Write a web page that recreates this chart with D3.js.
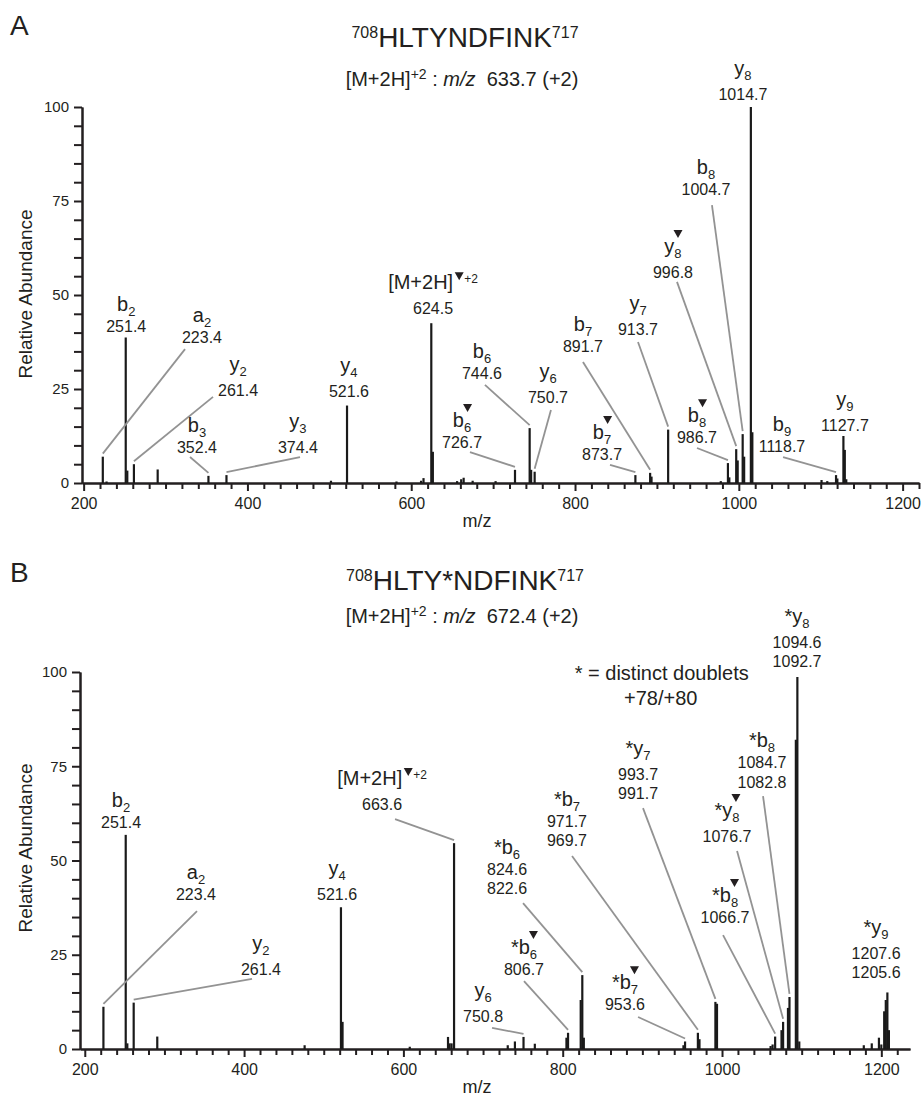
<!DOCTYPE html>
<html>
<head>
<meta charset="utf-8">
<script src="https://cdn.jsdelivr.net/npm/d3@7"></script>
<style>
body { margin: 0; background: #fff; }
svg text { font-family: "Liberation Sans", Arial, sans-serif; fill: #231f20; }
.axis path, .axis line { stroke: #231f20; stroke-width: 2; }
.axis text { font-family: "Liberation Sans", Arial, sans-serif; fill: #231f20; }
</style>
</head>
<body>
<svg id="chart" width="921" height="1098"></svg>
<script>
// ---- DATA -----------------------
var mzMajor = [200, 400, 600, 800, 1000, 1200];
var mzMinor = d3.range(220, 1221, 20).filter(v => v % 200 != 0);
var abundMajor = [0, 25, 50, 75, 100];
var abundMinor = [5, 10, 15, 20, 30, 35, 40, 45, 55, 60, 65, 70, 80, 85, 90, 95];

// spectrum A, [m/z, relative abundance]
var peaksA = [
    [223.4, 7.0], [228, 0.4], [251.4, 38.7], [253.3, 3.3], [261.4, 5.0], [290.4, 3.6],
    [352.4, 1.9], [374.4, 2.1], [502, 0.6], [521.6, 20.6], [582, 0.4], [612, 0.6],
    [615, 1.3], [624.5, 42.5], [626.4, 8.3], [656, 0.5], [661, 1.0], [664, 1.4],
    [675, 0.6], [703, 0.5], [726.7, 3.5], [744.6, 14.6], [746.4, 3.5], [750.7, 3.0],
    [873.7, 2.1], [891.7, 2.7], [893.4, 1.7], [913.7, 14.2], [978, 0.5], [986.7, 5.3],
    [988.4, 1.5], [996.8, 9.0], [998.6, 6.0], [1004.7, 13.0], [1006.5, 7.0],
    [1014.7, 100], [1016.5, 13.5], [1101, 0.8], [1108, 0.5], [1118.7, 2.1],
    [1120.3, 1.2], [1127.7, 12.5], [1129.4, 8.8], [1131.2, 1.0]
];

// spectrum B (phospho), [m/z, relative abundance]
var peaksB = [
    [223.4, 11.2], [251.4, 56.8], [253.4, 1.5], [261.4, 12.3], [291, 3.3], [476, 1.0],
    [521.6, 37.6], [523.6, 7.2], [608, 0.6], [656, 3.2], [658, 1.5], [660.5, 1.5],
    [663.6, 54.6], [731, 1.0], [740, 2.0], [750.8, 3.2], [765, 1.4], [804.7, 3.0],
    [806.7, 4.3], [822.6, 13.0], [824.6, 19.6], [826.5, 3.0], [951.6, 1.0], [953.6, 2.0],
    [969.7, 4.3], [971.7, 2.6], [991.7, 12.5], [993.7, 12.0], [1061, 0.8], [1063.5, 1.2],
    [1066.7, 3.3], [1074.7, 5.0], [1076.7, 7.2], [1082.8, 10.9], [1084.7, 13.8],
    [1092.7, 82], [1094.6, 98.7], [1097, 2.0], [1178, 1.0], [1188, 1.5], [1197, 3.0],
    [1200, 1.2], [1203.6, 10], [1205.6, 13], [1207.6, 15], [1209.5, 5]
];

// ion annotations: text + where the label sits (in m/z, abundance units)
var labelsA = [
    {ion: "b", sub: "2", mz: ["251.4"], at: [252, 40.2]},
    {ion: "a", sub: "2", mz: ["223.4"], at: [344.5, 37.2], from: [323.8, 35.6]},
    {ion: "y", sub: "2", mz: ["261.4"], at: [388.5, 23.1], from: [358, 22.9]},
    {ion: "b", sub: "3", mz: ["352.4"], at: [338.4, 8.0], from: [329.9, 6.9]},
    {ion: "y", sub: "3", mz: ["374.4"], at: [461.7, 8.0], from: [464.2, 6.9]},
    {ion: "y", sub: "4", mz: ["521.6"], at: [524, 22.9]},
    {ion: "[M+2H]", tri: true, sup: "+2", mz: ["624.5"], at: [626.6, 44.9]},
    {ion: "b", sub: "6", tri: true, mz: ["726.7"], at: [662, 9.3], from: [671.7, 8.2]},
    {ion: "b", sub: "6", mz: ["744.6"], at: [686.4, 27.7], from: [690, 26.1]},
    {ion: "y", sub: "6", mz: ["750.7"], at: [767, 21.3], from: [770.6, 19.4]},
    {ion: "b", sub: "7", tri: true, mz: ["873.7"], at: [833, 6.1], from: [842.7, 4.8]},
    {ion: "b", sub: "7", mz: ["891.7"], at: [809.7, 34.8], from: [809.7, 32.2]},
    {ion: "y", sub: "7", mz: ["913.7"], at: [876.9, 39.4], from: [876.9, 37.5]},
    {ion: "y", sub: "8", tri: true, mz: ["996.8"], at: [919.6, 54.5], from: [924.5, 53.5]},
    {ion: "b", sub: "8", mz: ["1004.7"], at: [959.9, 76.6], from: [967.2, 73.9]},
    {ion: "y", sub: "8", mz: ["1014.7"], at: [1005, 101.9]},
    {ion: "b", sub: "8", tri: true, mz: ["986.7"], at: [948.9, 10.6], from: [948.9, 9.3]},
    {ion: "b", sub: "9", mz: ["1118.7"], at: [1052.7, 8.2], from: [1054, 6.9]},
    {ion: "y", sub: "9", mz: ["1127.7"], at: [1129.6, 13.8]}
];

var labelsB = [
    {ion: "b", sub: "2", mz: ["251.4"], at: [245.5, 58.6]},
    {ion: "a", sub: "2", mz: ["223.4"], at: [339.6, 39.5], from: [340.9, 36.6]},
    {ion: "y", sub: "2", mz: ["261.4"], at: [421.2, 19.6], from: [410, 18.6]},
    {ion: "y", sub: "4", mz: ["521.6"], at: [516.7, 39.5]},
    {ion: "[M+2H]", tri: true, sup: "+2", mz: ["663.6"], at: [573.2, 63.4], from: [589.5, 61]},
    {ion: "y", sub: "6", mz: ["750.8"], at: [700, 7.2], from: [711.3, 5.6]},
    {star: true, ion: "b", sub: "6", tri: true, mz: ["806.7"], at: [751.4, 19.6], from: [751.4, 18.0]},
    {star: true, ion: "b", sub: "6", mz: ["824.6", "822.6"], at: [730.1, 46.2], from: [750.2, 38.7]},
    {star: true, ion: "b", sub: "7", tri: true, mz: ["953.6"], at: [878.2, 10.3], from: [894.6, 8.5]},
    {star: true, ion: "b", sub: "7", mz: ["971.7", "969.7"], at: [805.4, 58.9], from: [811.7, 51.2]},
    {star: true, ion: "y", sub: "7", mz: ["993.7", "991.7"], at: [894.6, 71.4], from: [900.8, 63.9]},
    {star: true, ion: "y", sub: "8", tri: true, mz: ["1076.7"], at: [1006.3, 54.9], from: [1018.9, 52.5]},
    {star: true, ion: "b", sub: "8", tri: true, mz: ["1066.7"], at: [1003.8, 33.4], from: [1001.3, 30.2]},
    {star: true, ion: "b", sub: "8", mz: ["1084.7", "1082.8"], at: [1050.2, 74.5], from: [1051.5, 67.1]},
    {star: true, ion: "y", sub: "8", mz: ["1094.6", "1092.7"], at: [1094.2, 106.4]},
    {star: true, ion: "y", sub: "9", mz: ["1207.6", "1205.6"], at: [1193.4, 23.9]}
];

var notesB = [
    {text: "* = distinct doublets", at: [924.3, 97.9]},
    {text: "+78/+80", at: [923, 91.2]}
];

// ---- PANELS -----------------------
var panels = [
    {letter: "A", letterY: 35, title: ["708", "HLTYNDFINK", "717"], titleY: 47,
     precursor: "633.7", subY: 86, relY: 294,
     peaks: peaksA, labels: labelsA, notes: [],
     x: d3.scaleLinear().domain([198, 1220]).range([82, 919]),
     y: d3.scaleLinear().domain([0, 100]).range([483, 107])},
    {letter: "B", letterY: 582, title: ["708", "HLTY*NDFINK", "717"], titleY: 590,
     precursor: "672.4", subY: 623, relY: 848,
     peaks: peaksB, labels: labelsB, notes: notesB,
     x: d3.scaleLinear().domain([194, 1236]).range([80, 910]),
     y: d3.scaleLinear().domain([0, 100]).range([1049, 672])}
];

var svg = d3.select("#chart");

function triangle(g, cx, top) {
    g.append("path")
        .attr("d", "M-4.5,0L4.5,0L0,8Z")
        .attr("transform", "translate(" + cx + "," + top + ")")
        .style("fill", "#231f20");
}

function ionLabel(g, d, cx, base) {
    var lab = g.append("g");
    var t = lab.append("text").attr("x", 0).attr("y", base).style("font-size", "20px");
    if (d.star) t.append("tspan").text("*");
    t.append("tspan").text(d.ion);
    var sub = null;
    if (d.sub) sub = t.append("tspan").attr("dy", 5).style("font-size", "13px").text(d.sub);
    var w = t.node().getComputedTextLength();
    if (d.tri && sub) {
        var sw = sub.node().getComputedTextLength();
        triangle(lab, w - sw / 2, base - 23);
    }
    if (d.sup) {
        triangle(lab, w + 6, base - 17);
        var s = lab.append("text").attr("x", w + 11).attr("y", base - 6)
            .style("font-size", "12px").text(d.sup);
        w = w + 11 + s.node().getComputedTextLength();
    }
    lab.attr("transform", "translate(" + (cx - w / 2) + ",0)");
}

panels.forEach(p => {
    var g = svg.append("g");
    var x = p.x, y = p.y;
    var y0 = y(0);

    // panel letter + titles
    g.append("text").attr("x", 10).attr("y", p.letterY)
        .style("font-size", "28px").text(p.letter);

    var tt = g.append("text").attr("x", 465).attr("y", p.titleY)
        .attr("text-anchor", "middle").style("font-size", "28px");
    tt.append("tspan").attr("dy", -9).style("font-size", "16px").text(p.title[0]);
    tt.append("tspan").attr("dy", 9).text(p.title[1]);
    tt.append("tspan").attr("dy", -9).style("font-size", "16px").text(p.title[2]);

    var st = g.append("text").attr("x", 462).attr("y", p.subY)
        .attr("text-anchor", "middle").style("font-size", "20px");
    st.append("tspan").text("[M+2H]");
    st.append("tspan").attr("dy", -7).style("font-size", "14px").text("+2");
    st.append("tspan").attr("dy", 7).text(" : ");
    st.append("tspan").style("font-style", "italic").text("m/z");
    st.append("tspan").text("\u00a0 " + p.precursor + " (+2)");

    // axes
    g.append("g").attr("class", "axis").attr("transform", "translate(0," + y0 + ")")
        .call(d3.axisBottom(x).tickValues(mzMinor).tickSize(6).tickSizeOuter(0).tickFormat(""));
    g.append("g").attr("class", "axis").attr("transform", "translate(0," + y0 + ")")
        .call(d3.axisBottom(x).tickValues(mzMajor).tickSize(8).tickSizeOuter(0)
            .tickPadding(7).tickFormat(d3.format("d")))
        .selectAll("text").style("font-size", "16px");

    var xl = x.range()[0];
    g.append("g").attr("class", "axis").attr("transform", "translate(" + xl + ",0)")
        .call(d3.axisLeft(y).tickValues(abundMinor).tickSize(8).tickSizeOuter(0).tickFormat(""));
    g.append("g").attr("class", "axis").attr("transform", "translate(" + xl + ",0)")
        .call(d3.axisLeft(y).tickValues(abundMajor).tickSize(8).tickSizeOuter(0).tickPadding(5))
        .selectAll("text").style("font-size", "15px");

    g.append("text").attr("x", 477).attr("y", y0 + 44)
        .attr("text-anchor", "middle").style("font-size", "18px").text("m/z");
    g.append("text").attr("transform", "translate(32," + p.relY + ") rotate(-90)")
        .attr("text-anchor", "middle").style("font-size", "19px").text("Relative Abundance");

    // peaks
    g.selectAll(".peak").data(p.peaks).enter().append("line")
        .attr("class", "peak")
        .attr("x1", d => x(d[0])).attr("x2", d => x(d[0]))
        .attr("y1", y0).attr("y2", d => y(d[1]))
        .style("stroke", "#1a1a1a").style("stroke-width", 2.2);

    // leader lines
    p.labels.filter(d => d.from).forEach(d => {
        var vals = d.mz.map(Number);
        var hits = p.peaks.filter(pk => vals.some(v => Math.abs(pk[0] - v) < 1.2));
        var top = hits.reduce((a, b) => (b[1] > a[1] ? b : a));
        g.append("line")
            .attr("x1", x(d.from[0])).attr("y1", y(d.from[1]))
            .attr("x2", x(top[0])).attr("y2", y(top[1]) - 3)
            .style("stroke", "#939393").style("stroke-width", 1.8);
    });

    // label text
    p.labels.forEach(d => {
        var cx = x(d.at[0]), base = y(d.at[1]);
        d.mz.forEach((v, i) => {
            g.append("text").attr("x", cx).attr("y", base + i * 19.5)
                .attr("text-anchor", "middle").style("font-size", "16px").text(v);
        });
        var gap = (d.ion == "y" || d.sup) ? 25 : 21;
        ionLabel(g, d, cx, base - gap);
    });

    p.notes.forEach(n => {
        g.append("text").attr("x", x(n.at[0])).attr("y", y(n.at[1]))
            .attr("text-anchor", "middle").style("font-size", "20px").text(n.text);
    });
});
</script>
</body>
</html>
